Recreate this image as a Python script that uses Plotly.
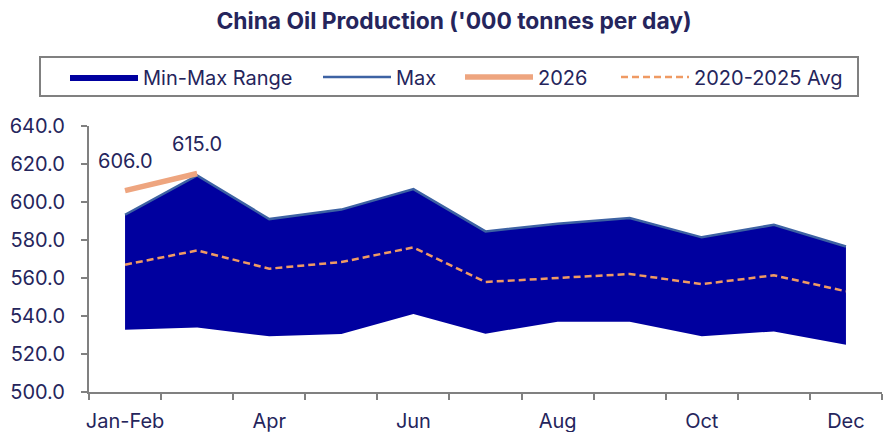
import plotly.graph_objects as go

# Monthly categories (Jan and Feb are reported together)
months = ["Jan-Feb", "Mar", "Apr", "May", "Jun", "Jul", "Aug", "Sep", "Oct", "Nov", "Dec"]
tick_labels = ["Jan-Feb", "", "Apr", "", "Jun", "", "Aug", "", "Oct", "", "Dec"]

# Historical range of daily production, '000 tonnes per day
range_min = [532.8, 534.0, 529.3, 530.5, 541.0, 530.7, 537.0, 537.0, 529.3, 531.9, 524.9]
range_max = [593.3, 614.0, 591.0, 596.0, 606.8, 584.5, 588.6, 591.6, 581.4, 588.0, 576.6]
avg_2020_2025 = [567.0, 574.5, 564.9, 568.4, 576.1, 557.9, 560.0, 562.1, 556.8, 561.4, 553.0]

# Current year so far
months_2026 = ["Jan-Feb", "Mar"]
values_2026 = [606.0, 615.0]

TEXT = "#25255c"
FONT = "Inter"
FILL = "#00009f"
MAX_LINE = "#3d62a3"
SALMON = "#eea57f"
ORANGE = "#ef9a63"
AXIS = "#808080"
FS = 20

fig = go.Figure()

# Lower bound of the band (no legend entry)
fig.add_trace(go.Scatter(
    x=months, y=range_min, mode="lines",
    line=dict(width=0, color=FILL), showlegend=False, hoverinfo="skip",
))
# Filled band between min and max
fig.add_trace(go.Scatter(
    x=months, y=range_max, mode="lines", fill="tonexty",
    fillcolor=FILL, line=dict(width=0, color=FILL),
    name="Min-Max Range", legend="legend",
))
# Max outline
fig.add_trace(go.Scatter(
    x=months, y=range_max, mode="lines",
    line=dict(width=2.5, color=MAX_LINE),
    name="Max", legend="legend2",
))
# 2020-2025 average
fig.add_trace(go.Scatter(
    x=months, y=avg_2020_2025, mode="lines",
    line=dict(width=2.5, color=ORANGE, dash="7px,4px"),
    name="2020-2025 Avg", legend="legend4",
))
# 2026 line
fig.add_trace(go.Scatter(
    x=months_2026, y=values_2026, mode="lines",
    line=dict(width=5.5, color=SALMON),
    name="2026", legend="legend3",
))

# Value labels for 2026
for m, v in zip(months_2026, values_2026):
    fig.add_annotation(
        x=m, y=v, text=f"{v:.1f}", showarrow=False,
        yshift=30, font=dict(family=FONT, size=FS, color=TEXT),
    )

legend_common = dict(
    orientation="h", xref="container", yref="container",
    xanchor="left", yanchor="middle", y=1 - 77 / 432,
    bgcolor="rgba(0,0,0,0)", borderwidth=0, itemwidth=68,
    font=dict(family=FONT, size=FS, color=TEXT),
    itemclick=False, itemdoubleclick=False,
)

fig.update_layout(
    width=883, height=432,
    margin=dict(l=89, r=1, t=126, b=40),
    paper_bgcolor="white", plot_bgcolor="white",
    font=dict(family=FONT, size=FS, color=TEXT),
    title=dict(
        text="<b>China Oil Production ('000 tonnes per day)</b>",
        x=454 / 883, xanchor="center", y=1 - 21 / 432, yanchor="middle",
        font=dict(family=FONT, size=22.8, color=TEXT),
    ),
    showlegend=True,
    legend=dict(legend_common, x=65 / 883),
    legend2=dict(legend_common, x=318 / 883),
    legend3=dict(legend_common, x=460 / 883),
    legend4=dict(legend_common, x=616 / 883),
    xaxis=dict(
        type="category", range=[-0.5, 10.5],
        tickmode="array", tickvals=months, ticktext=tick_labels,
        tickson="boundaries", ticks="outside", ticklen=6, tickwidth=2,
        tickcolor=AXIS, showline=True, linecolor=AXIS, linewidth=2,
        showgrid=False, zeroline=False, ticklabelstandoff=10,
        tickangle=0, automargin=False,
        tickfont=dict(family=FONT, size=FS, color=TEXT),
    ),
    yaxis=dict(
        range=[500, 640], dtick=20, tickformat=".1f",
        ticks="outside", ticklen=6, tickwidth=2, tickcolor=AXIS,
        showline=True, linecolor=AXIS, linewidth=2,
        showgrid=False, zeroline=False, ticklabelstandoff=12,
        automargin=False,
        tickfont=dict(family=FONT, size=FS, color=TEXT),
    ),
    shapes=[dict(
        type="rect", xref="paper", yref="paper",
        x0=(40 - 89) / 793, x1=(858 - 89) / 793,
        y0=(432 - 40 - 96) / 266, y1=(432 - 40 - 57) / 266,
        line=dict(color=AXIS, width=2), fillcolor="rgba(0,0,0,0)", layer="above",
    )],
)

fig.write_html("out.html")
